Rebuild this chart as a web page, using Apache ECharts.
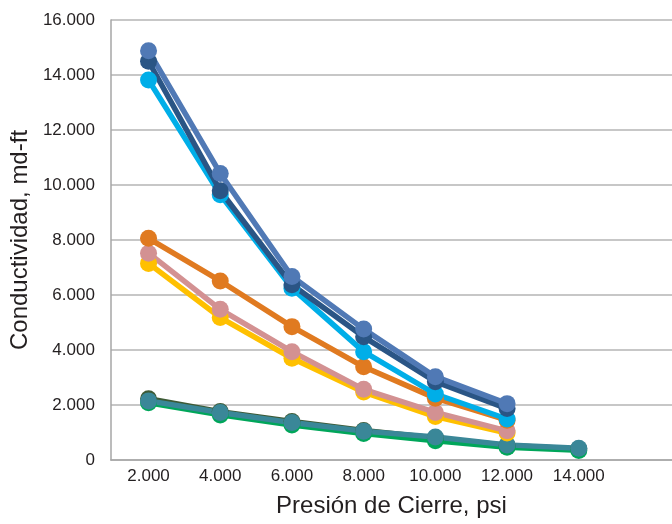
<!DOCTYPE html>
<html>
<head>
<meta charset="utf-8">
<script src="https://cdn.jsdelivr.net/npm/echarts@6/dist/echarts.min.js"></script>
<style>html,body{margin:0;padding:0;background:#fff}#c{width:672px;height:524px}</style>
</head>
<body>
<div id="c"></div>
<script>
// Presión de Cierre (psi)
const pressures = [2000, 4000, 6000, 8000, 10000, 12000, 14000];
const xTickValues = [2000, 4000, 6000, 8000, 10000, 12000, 14000];
const yTickMin = 0, yTickMax = 16000, yTickStep = 2000;

// Conductividad (md-ft) per series
const olive  = [2230, 1760, 1400, 1070, 800, 530, 400];
const green  = [2080, 1640, 1270, 960, 700, 460, 350];
const teal   = [2150, 1730, 1360, 1050, 840, 550, 430];
const yellow = [7150, 5180, 3700, 2470, 1580, 980];
const pink   = [7520, 5480, 3940, 2570, 1730, 1060];
const orange = [8060, 6510, 4850, 3390, 2250, 1450];
const cyan   = [13820, 9650, 6250, 3940, 2400, 1490];
const navy   = [14500, 9790, 6370, 4480, 2850, 1870];
const steel  = [14880, 10420, 6670, 4760, 3030, 2050];

const seriesDefs = [
  ['A', olive,  '#3d5a35'],
  ['B', green,  '#00a65a'],
  ['C', teal,   '#3a8798'],
  ['D', yellow, '#ffc000'],
  ['E', pink,   '#d39192'],
  ['F', orange, '#e07a20'],
  ['G', cyan,   '#00aee8'],
  ['H', navy,   '#2a5585'],
  ['I', steel,  '#5079b5']
];

function fmt(v){ return v === 0 ? '0' : String(v).replace(/\B(?=(\d{3})+(?!\d))/g, '.'); }

const chart = echarts.init(document.getElementById('c'), null, {renderer:'canvas'});
chart.setOption({
  animation: false,
  backgroundColor: '#ffffff',
  grid: {left: 107, top: 20, width: 600, height: 440, containLabel: false},
  xAxis: {
    type: 'value', min: 950, max: 16600,
    name: 'Presión de Cierre, psi', nameLocation: 'middle', nameGap: 34,
    nameTextStyle: {fontFamily: 'Liberation Sans, Arial, sans-serif', fontSize: 24, color: '#231f20'},
    axisLine: {show: true, lineStyle: {color: '#a6a6a6', width: 1.5}},
    axisTick: {show: false, customValues: xTickValues},
    splitLine: {show: false},
    axisLabel: {customValues: xTickValues, formatter: fmt, margin: 8,
      fontFamily: 'Liberation Sans, Arial, sans-serif', fontSize: 17, color: '#231f20'}
  },
  yAxis: {
    type: 'value', min: yTickMin, max: yTickMax, interval: yTickStep,
    name: 'Conductividad, md-ft', nameLocation: 'middle', nameGap: 72,
    nameTextStyle: {fontFamily: 'Liberation Sans, Arial, sans-serif', fontSize: 24, color: '#231f20'},
    axisLine: {show: true, lineStyle: {color: '#a6a6a6', width: 1.5}},
    axisTick: {show: false},
    splitLine: {show: true, lineStyle: {color: '#b4b4b4', width: 1.5}},
    axisLabel: {formatter: fmt, margin: 16,
      fontFamily: 'Liberation Sans, Arial, sans-serif', fontSize: 17, color: '#231f20'}
  },
  series: seriesDefs.map(([name, vals, color]) => ({
    name, type: 'line',
    data: vals.map((v, i) => [pressures[i], v]),
    symbol: 'circle', symbolSize: 17,
    lineStyle: {color, width: 5.5},
    itemStyle: {color},
    emphasis: {disabled: true},
    clip: false
  }))
});
</script>
</body>
</html>
